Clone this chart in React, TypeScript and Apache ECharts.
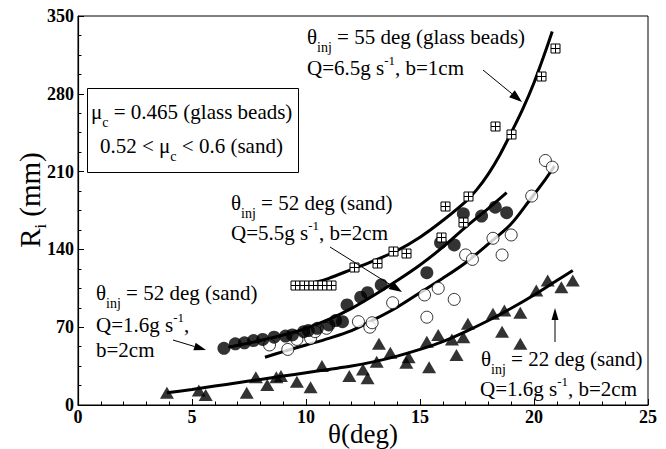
import React, { useEffect, useRef } from "react";
import * as echarts from "echarts";

// ---- data ----
const glassTheta = [9.5, 9.9, 10.3, 10.7, 11.1, 12.1, 13.1, 13.8, 14.4, 15.9, 16.1, 16.9, 17.1, 18.3, 19.0, 20.3, 20.9];
const glassR = [108, 108, 108, 108, 108, 124, 128, 139, 137, 151, 179, 165, 188, 251, 244, 296, 321];

const filledTheta = [6.4, 6.9, 7.3, 7.7, 8.1, 8.6, 9.1, 9.4, 9.9, 10.1, 10.5, 11.0, 11.3, 11.6, 11.8, 12.4, 12.7, 13.3, 15.3, 15.9, 16.5, 16.9, 17.7, 18.3, 18.8];
const filledR = [51, 55, 56, 58, 59, 61, 62, 63, 66, 67, 69, 72, 76, 75, 90, 97, 101, 108, 119, 146, 144, 172, 170, 178, 173];

const openTheta = [8.4, 9.2, 9.6, 10.2, 10.4, 10.9, 12.3, 12.8, 12.9, 13.8, 15.2, 15.3, 15.8, 16.5, 17.0, 17.3, 18.2, 18.6, 19.0, 19.9, 20.5, 20.8];
const openR = [54, 50, 59, 60, 66, 69, 75, 70, 74, 92, 99, 79, 105, 95, 135, 131, 150, 135, 153, 188, 220, 214];

const triTheta = [3.9, 5.3, 5.6, 7.4, 7.8, 8.3, 8.7, 8.9, 9.6, 10.2, 10.7, 11.9, 12.5, 12.7, 13.1, 13.2, 13.7, 14.4, 14.5, 15.3, 15.4, 15.8, 16.4, 16.6, 16.9, 17.1, 18.2, 18.6, 18.7, 19.4, 19.4, 20.1, 20.6, 21.2, 21.7];
const triR = [11, 13, 9, 11, 25, 18, 25, 26, 21, 16, 35, 26, 32, 24, 39, 55, 47, 38, 43, 57, 34, 63, 59, 45, 61, 73, 82, 66, 85, 83, 55, 103, 112, 106, 112];

// fitted curves
const glassCurveTheta = [9.6, 10.5, 11.0, 12.0, 13.0, 14.0, 15.0, 16.0, 17.0, 17.5, 18.0, 18.5, 19.0, 19.5, 20.0, 20.5, 20.8];
const glassCurveR = [108, 111, 114, 122, 130, 139, 151, 166, 183, 194, 208, 225, 245, 266, 290, 318, 336];

const filledCurveTheta = [6.6, 8.0, 9.0, 10.0, 11.0, 12.0, 13.0, 14.0, 15.0, 16.0, 17.0, 18.0, 18.8];
const filledCurveR = [52, 58, 63, 69, 77, 87, 99, 112, 126, 142, 160, 177, 191];

const openCurveTheta = [8.2, 9.0, 10.0, 11.0, 12.0, 13.0, 14.0, 15.0, 16.0, 17.0, 18.0, 19.0, 19.8, 20.5, 20.9];
const openCurveR = [43, 48, 54, 60, 67, 77, 88, 101, 114, 128, 145, 163, 184, 203, 215];

const triCurveTheta = [3.9, 5.0, 6.0, 7.0, 8.0, 9.0, 10.0, 11.0, 12.0, 13.0, 14.0, 15.0, 16.0, 17.0, 18.0, 19.0, 20.0, 21.0, 21.7];
const triCurveR = [11, 14, 17, 20, 23, 26, 29, 32, 35, 39, 44, 50, 57, 66, 76, 87, 99, 112, 121];

const xTicks = { min: 0, max: 25, interval: 5 };
const yTicks = { min: 0, max: 350, interval: 70 };

const FONT = "'Liberation Serif', 'Times New Roman', serif";
const MAIN = 21;
const SUB = 14;
const SUP = 13;

const zip = (a: number[], b: number[]) => a.map((v, i) => [v, b[i]]);

let measureCtx: CanvasRenderingContext2D | null = null;
function textWidth(t: string, size: number) {
  if (!measureCtx) measureCtx = document.createElement("canvas").getContext("2d");
  if (!measureCtx) return t.length * size * 0.5;
  measureCtx.font = `${size}px ${FONT}`;
  return measureCtx.measureText(t).width;
}

type Piece = [string, "m" | "sub" | "sup"];

// one line of text made of main / subscript / superscript pieces
function textLine(x: number, y: number, pieces: Piece[], z = 100) {
  const out: any[] = [];
  let cx = x;
  for (const [t, kind] of pieces) {
    const size = kind === "m" ? MAIN : kind === "sub" ? SUB : SUP;
    const dy = kind === "m" ? 0 : kind === "sub" ? 10 : -8;
    out.push({
      type: "text",
      x: cx,
      y: y + dy,
      z,
      style: {
        text: t,
        fontFamily: FONT,
        fontSize: size,
        lineHeight: size,
        fill: "#000",
        align: "left",
        verticalAlign: "middle",
      },
    });
    cx += textWidth(t, size);
  }
  return out;
}

function arrow(x1: number, y1: number, x2: number, y2: number, len = 12, half = 4) {
  const dx = x2 - x1;
  const dy = y2 - y1;
  const L = Math.hypot(dx, dy);
  const ux = dx / L;
  const uy = dy / L;
  const bx = x2 - ux * len;
  const by = y2 - uy * len;
  return [
    { type: "line", z: 100, shape: { x1, y1, x2: bx, y2: by }, style: { stroke: "#000", lineWidth: 1 } },
    {
      type: "polygon",
      z: 100,
      shape: {
        points: [
          [x2, y2],
          [bx - uy * half, by + ux * half],
          [bx + uy * half, by - ux * half],
        ],
      },
      style: { fill: "#000" },
    },
  ];
}

export default function App() {
  const ref = useRef<HTMLDivElement>(null);
  useEffect(() => {
    if (!ref.current) return;
    const chart = echarts.init(ref.current, null, { renderer: "svg" });
    const axisCommon = {
      axisLine: { show: true, lineStyle: { color: "#000", width: 1.2 } },
      axisTick: { show: true, inside: true, length: 6, lineStyle: { color: "#000", width: 1 } },
      minorTick: { show: true, length: 3.5, lineStyle: { color: "#000", width: 1 } },
      splitLine: { show: false },
      axisLabel: { color: "#000", fontFamily: FONT, fontSize: 18, fontWeight: "bold" },
    };
    const lineSeries = (t: number[], r: number[]) => ({
      type: "line",
      data: zip(t, r),
      symbol: "none",
      smooth: 0.3,
      z: 2,
      lineStyle: { color: "#000", width: 3 },
      silent: true,
    });
    chart.setOption({
      animation: false,
      backgroundColor: "#fff",
      grid: { left: 78, right: 18, top: 16, bottom: 44, show: true, borderColor: "#000", borderWidth: 1 },
      xAxis: {
        type: "value",
        ...xTicks,
        ...axisCommon,
        minorTick: { ...axisCommon.minorTick, splitNumber: 5 },
        axisLabel: { ...axisCommon.axisLabel, margin: 3 },
      },
      yAxis: {
        type: "value",
        ...yTicks,
        ...axisCommon,
        minorTick: { ...axisCommon.minorTick, splitNumber: 4 },
        axisLabel: { ...axisCommon.axisLabel, margin: 4 },
      },
      series: [
        lineSeries(glassCurveTheta, glassCurveR),
        lineSeries(filledCurveTheta, filledCurveR),
        lineSeries(openCurveTheta, openCurveR),
        lineSeries(triCurveTheta, triCurveR),
        {
          type: "scatter",
          data: zip(openTheta, openR),
          symbol: "circle",
          symbolSize: 12,
          z: 3,
          itemStyle: { color: "#fff", borderColor: "#000", borderWidth: 1 },
        },
        {
          type: "scatter",
          data: zip(filledTheta, filledR),
          symbol: "circle",
          symbolSize: 13,
          z: 4,
          itemStyle: { color: "#000" },
        },
        {
          type: "scatter",
          data: zip(triTheta, triR),
          symbol: "triangle",
          symbolSize: [14, 12],
          z: 4,
          itemStyle: { color: "#000" },
        },
        {
          type: "custom",
          z: 5,
          data: zip(glassTheta, glassR),
          encode: { x: 0, y: 1 },
          renderItem: (params: any, api: any) => {
            const p = api.coord([api.value(0), api.value(1)]);
            const s = 9;
            const cx = Math.round(p[0]) + 0.5;
            const cy = Math.round(p[1]) + 0.5;
            return {
              type: "group",
              children: [
                { type: "rect", shape: { x: cx - s / 2, y: cy - s / 2, width: s, height: s }, style: { fill: "#fff", stroke: "#000", lineWidth: 1 } },
                { type: "line", shape: { x1: cx - s / 2, y1: cy, x2: cx + s / 2, y2: cy }, style: { stroke: "#000", lineWidth: 1 } },
                { type: "line", shape: { x1: cx, y1: cy - s / 2, x2: cx, y2: cy + s / 2 }, style: { stroke: "#000", lineWidth: 1 } },
              ],
            };
          },
        },
      ],
      graphic: [
        // axis names
        {
          type: "text",
          x: 363,
          y: 434,
          style: { text: "θ(deg)", fontFamily: FONT, fontSize: 27, fill: "#000", align: "center", verticalAlign: "middle" },
        },
        {
          type: "text",
          x: 30,
          y: 200,
          rotation: Math.PI / 2,
          style: {
            text: "R{ri|i} (mm)",
            rich: { ri: { fontSize: 16, lineHeight: 16, padding: [20, 0, 0, 0], fontFamily: FONT } },
            fontFamily: FONT,
            fontSize: 29,
            lineHeight: 30,
            fill: "#000",
            align: "center",
            verticalAlign: "middle",
          },
        },
        // box
        {
          type: "rect",
          z: 100,
          shape: { x: 87.5, y: 88.5, width: 211, height: 84 },
          style: { fill: "#fff", stroke: "#000", lineWidth: 1 },
        },
        ...textLine(91, 112, [["μ", "m"], ["c", "sub"], [" = 0.465 (glass beads)", "m"]], 101),
        ...textLine(100, 146, [["0.52 < μ", "m"], ["c", "sub"], [" < 0.6 (sand)", "m"]], 101),
        // annotations
        ...textLine(307, 37, [["θ", "m"], ["inj", "sub"], [" = 55 deg (glass beads)", "m"]]),
        ...textLine(307, 68, [["Q=6.5g s", "m"], ["-1", "sup"], [", b=1cm", "m"]]),
        ...textLine(231, 203, [["θ", "m"], ["inj", "sub"], [" = 52 deg (sand)", "m"]]),
        ...textLine(231, 233, [["Q=5.5g s", "m"], ["-1", "sup"], [", b=2cm", "m"]]),
        ...textLine(96, 293, [["θ", "m"], ["inj", "sub"], [" = 52 deg (sand)", "m"]]),
        ...textLine(96, 325, [["Q=1.6g s", "m"], ["-1", "sup"], [",", "m"]]),
        ...textLine(96, 350, [["b=2cm", "m"]]),
        ...textLine(481, 359, [["θ", "m"], ["inj", "sub"], [" = 22 deg (sand)", "m"]]),
        ...textLine(480, 389, [["Q=1.6g s", "m"], ["-1", "sup"], [", b=2cm", "m"]]),
        ...arrow(483, 70, 522, 102, 13, 4.5),
        ...arrow(330, 247, 402, 292, 13, 4.5),
        ...arrow(173, 340, 206, 350, 12, 4),
        ...arrow(555, 342, 555, 308, 12, 3.5),
      ],
    });
    return () => chart.dispose();
  }, []);
  return <div ref={ref} style={{ width: 666, height: 449, position: "absolute", left: 0, top: 0 }} />;
}
